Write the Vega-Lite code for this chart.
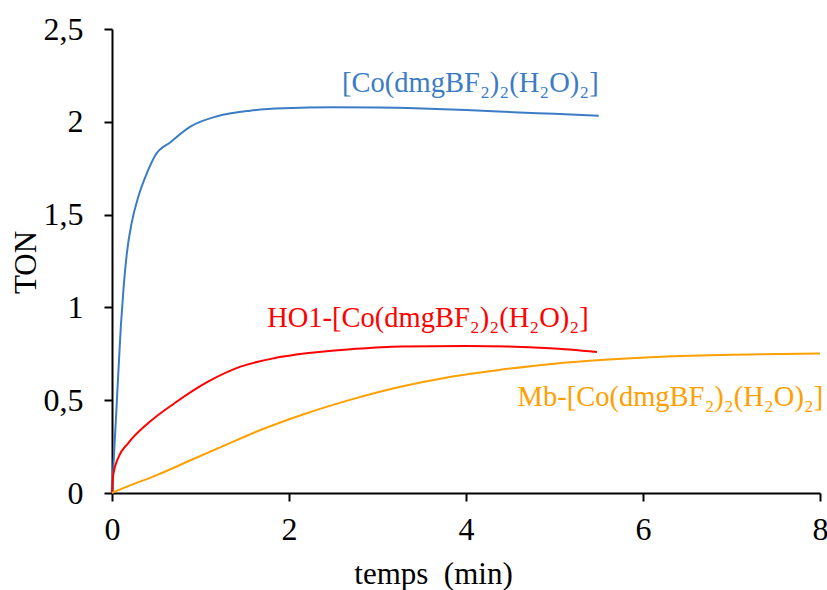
{
  "$schema": "https://vega.github.io/schema/vega-lite/v6.json",
  "width": 708,
  "height": 464,
  "autosize": {"type": "none"},
  "padding": {"left": 112, "top": 29, "right": 7, "bottom": 97},
  "background": "white",
  "config": {
    "font": "Liberation Serif",
    "view": {"stroke": null},
    "axis": {
      "grid": false,
      "domainColor": "black",
      "domainWidth": 2,
      "tickColor": "black",
      "tickWidth": 2,
      "tickSize": 8,
      "labelFont": "Liberation Serif",
      "labelFontSize": 32,
      "labelColor": "black",
      "titleFont": "Liberation Serif",
      "titleFontSize": 31,
      "titleFontWeight": "normal",
      "titleColor": "black"
    }
  },
  "datasets": {
    "curves": [
      {"t": 0, "ton": 0, "serie": "blue"},
      {"t": 0.05, "ton": 0.45, "serie": "blue"},
      {"t": 0.1, "ton": 0.9, "serie": "blue"},
      {"t": 0.13, "ton": 1.1, "serie": "blue"},
      {"t": 0.17, "ton": 1.3, "serie": "blue"},
      {"t": 0.22, "ton": 1.45, "serie": "blue"},
      {"t": 0.3, "ton": 1.6, "serie": "blue"},
      {"t": 0.4, "ton": 1.73, "serie": "blue"},
      {"t": 0.49, "ton": 1.82, "serie": "blue"},
      {"t": 0.66, "ton": 1.89, "serie": "blue"},
      {"t": 0.885, "ton": 1.974, "serie": "blue"},
      {"t": 1.19, "ton": 2.03, "serie": "blue"},
      {"t": 1.56, "ton": 2.06, "serie": "blue"},
      {"t": 1.94, "ton": 2.073, "serie": "blue"},
      {"t": 2.5, "ton": 2.078, "serie": "blue"},
      {"t": 3.0, "ton": 2.077, "serie": "blue"},
      {"t": 3.5, "ton": 2.072, "serie": "blue"},
      {"t": 4.0, "ton": 2.064, "serie": "blue"},
      {"t": 4.6, "ton": 2.05, "serie": "blue"},
      {"t": 5.0, "ton": 2.043, "serie": "blue"},
      {"t": 5.5, "ton": 2.032, "serie": "blue"},
      {"t": 0, "ton": 0, "serie": "red"},
      {"t": 0.015, "ton": 0.1, "serie": "red"},
      {"t": 0.071, "ton": 0.19, "serie": "red"},
      {"t": 0.184, "ton": 0.269, "serie": "red"},
      {"t": 0.41, "ton": 0.377, "serie": "red"},
      {"t": 0.71, "ton": 0.485, "serie": "red"},
      {"t": 1.09, "ton": 0.601, "serie": "red"},
      {"t": 1.46, "ton": 0.682, "serie": "red"},
      {"t": 1.84, "ton": 0.727, "serie": "red"},
      {"t": 2.22, "ton": 0.754, "serie": "red"},
      {"t": 2.7, "ton": 0.775, "serie": "red"},
      {"t": 3.26, "ton": 0.79, "serie": "red"},
      {"t": 4.01, "ton": 0.792, "serie": "red"},
      {"t": 4.95, "ton": 0.78, "serie": "red"},
      {"t": 5.48, "ton": 0.76, "serie": "red"},
      {"t": 0, "ton": 0, "serie": "orange"},
      {"t": 0.147, "ton": 0.03, "serie": "orange"},
      {"t": 0.52, "ton": 0.099, "serie": "orange"},
      {"t": 0.9, "ton": 0.179, "serie": "orange"},
      {"t": 1.28, "ton": 0.258, "serie": "orange"},
      {"t": 1.65, "ton": 0.334, "serie": "orange"},
      {"t": 2.2, "ton": 0.43, "serie": "orange"},
      {"t": 2.7, "ton": 0.503, "serie": "orange"},
      {"t": 3.26, "ton": 0.572, "serie": "orange"},
      {"t": 3.8, "ton": 0.624, "serie": "orange"},
      {"t": 4.39, "ton": 0.664, "serie": "orange"},
      {"t": 5.0, "ton": 0.697, "serie": "orange"},
      {"t": 5.52, "ton": 0.716, "serie": "orange"},
      {"t": 6.2, "ton": 0.734, "serie": "orange"},
      {"t": 7.0, "ton": 0.745, "serie": "orange"},
      {"t": 8.0, "ton": 0.751, "serie": "orange"}
    ],
    "labels": [
      {"t": 4.05, "ton": 2.21, "serie": "blue", "label": "[Co(dmgBF₂)₂(H₂O)₂]"},
      {"t": 3.57, "ton": 0.944, "serie": "red", "label": "HO1-[Co(dmgBF₂)₂(H₂O)₂]"},
      {"t": 6.31, "ton": 0.519, "serie": "orange", "label": "Mb-[Co(dmgBF₂)₂(H₂O)₂]"}
    ]
  },
  "layer": [
    {
      "data": {"name": "curves"},
      "mark": {"type": "line", "strokeWidth": 2, "interpolate": "monotone"},
      "encoding": {
        "x": {
          "field": "t", "type": "quantitative",
          "scale": {"domain": [0, 8], "nice": false},
          "axis": {"values": [0, 2, 4, 6, 8], "format": "d", "title": "temps\u00a0 (min)", "labelPadding": 13, "titleX": 321, "titleY": 90, "titleAlign": "center", "titleBaseline": "alphabetic", "labelFlush": false}
        },
        "y": {
          "field": "ton", "type": "quantitative",
          "scale": {"domain": [0, 2.5], "nice": false},
          "axis": {"values": [0, 0.5, 1, 1.5, 2, 2.5], "title": "TON", "labelPadding": 21, "titleX": -86, "titleY": 233, "titleAngle": -90, "titleAlign": "center", "titleBaseline": "middle", "labelExpr": "replace(format(datum.value, '~g'), '.', ',')", "labelFlush": false}
        },
        "color": {
          "field": "serie", "type": "nominal",
          "scale": {"domain": ["blue", "red", "orange"], "range": ["#3B7CC4", "#FF0000", "#FFA000"]},
          "legend": null
        }
      }
    },
    {
      "data": {"name": "labels"},
      "mark": {"type": "text", "font": "Liberation Serif", "fontSize": 28.5, "align": "center", "baseline": "middle"},
      "encoding": {
        "x": {"field": "t", "type": "quantitative"},
        "y": {"field": "ton", "type": "quantitative"},
        "text": {"field": "label"},
        "color": {"field": "serie", "type": "nominal", "legend": null}
      }
    }
  ]
}
